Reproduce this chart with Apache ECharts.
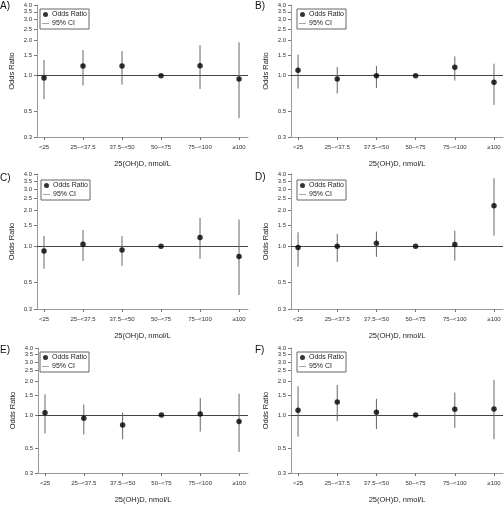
<!DOCTYPE html>
<html>
<head>
<meta charset="utf-8">
<script src="https://cdn.jsdelivr.net/npm/echarts@6/dist/echarts.min.js"></script>
<style>
html,body{margin:0;padding:0;background:#fff;}
#c{width:504px;height:505px;}
</style>
</head>
<body>
<div id="c"></div>
<script>
var categories = ['<25', '25\u2013<37.5', '37.5\u2013<50', '50\u2013<75', '75\u2013<100', '\u2265100'];
var yTicks = [0.3, 0.5, 1.0, 1.5, 2.0, 2.5, 3.0, 3.5, 4.0];
var panelLabels = ['A)', 'B)', 'C)', 'D)', 'E)', 'F)'];

var orA = [0.955, 1.21, 1.21, 1.0, 1.215, 0.937];
var loA = [0.63, 0.823, 0.839, null, 0.77, 0.435];
var hiA = [1.358, 1.65, 1.62, null, 1.82, 1.92];

var orB = [1.11, 0.937, 1.0, 1.0, 1.177, 0.878];
var loB = [0.776, 0.704, 0.786, null, 0.907, 0.564];
var hiB = [1.51, 1.184, 1.21, null, 1.459, 1.264];

var orC = [0.914, 1.039, 0.932, 1.0, 1.18, 0.82];
var loC = [0.65, 0.754, 0.685, null, 0.784, 0.392];
var hiC = [1.22, 1.37, 1.212, null, 1.725, 1.67];

var orD = [0.974, 1.0, 1.06, 1.0, 1.033, 2.18];
var loD = [0.675, 0.74, 0.816, null, 0.76, 1.225];
var hiD = [1.308, 1.266, 1.325, null, 1.35, 3.68];

var orE = [1.047, 0.931, 0.811, 1.0, 1.02, 0.872];
var loE = [0.68, 0.667, 0.604, null, 0.707, 0.465];
var hiE = [1.53, 1.24, 1.047, null, 1.42, 1.55];

var orF = [1.103, 1.307, 1.054, 1.0, 1.125, 1.132];
var loF = [0.637, 0.877, 0.745, null, 0.765, 0.604];
var hiF = [1.81, 1.86, 1.396, null, 1.59, 2.07];

var panels = [
  {or: orA, lo: loA, hi: hiA},
  {or: orB, lo: loB, hi: hiB},
  {or: orC, lo: loC, hi: hiC},
  {or: orD, lo: loD, hi: hiD},
  {or: orE, lo: loE, hi: hiE},
  {or: orF, lo: loF, hi: hiF}
];

// layout (pixels)
var grids = [
  {left: 37, top: 5, width: 211, height: 132},
  {left: 291, top: 5, width: 212, height: 132},
  {left: 37, top: 174, width: 211, height: 135},
  {left: 291, top: 174, width: 212, height: 135},
  {left: 38, top: 348, width: 210, height: 133},
  {left: 291, top: 348, width: 212, height: 133}
];
var legendPos = [
  {left: 40, top: 9}, {left: 297, top: 9},
  {left: 41, top: 180}, {left: 297, top: 180},
  {left: 40, top: 352}, {left: 297, top: 352}
];
var titlePos = [
  {left: 0, top: 1}, {left: 255, top: 1},
  {left: 0, top: 173}, {left: 255, top: 172},
  {left: 0, top: 345}, {left: 255, top: 345}
];

var FONT = 'Liberation Sans, Arial, sans-serif';
var xIdx = [0, 1, 2, 3, 4, 5];
var ciIcon = 'path://M0,0 L0,0 M12,6 L12,6 M0,2.5 L12,2.5 L12,3.5 L0,3.5 Z';

var option = {
  animation: false,
  backgroundColor: '#fff',
  title: [], grid: [], xAxis: [], yAxis: [], legend: [], series: []
};

panels.forEach(function (p, k) {
  var g = grids[k];
  option.grid.push({left: g.left, top: g.top, width: g.width, height: g.height, containLabel: false});
  option.title.push({
    text: panelLabels[k], left: titlePos[k].left, top: titlePos[k].top, padding: 0,
    textStyle: {fontFamily: FONT, fontSize: 10, fontWeight: 'normal', color: '#111'}
  });
  option.xAxis.push({
    type: 'value', gridIndex: k, min: -0.18, max: 5.23,
    name: '25(OH)D, nmol/L', nameLocation: 'middle', nameGap: 23,
    nameTextStyle: {fontFamily: FONT, fontSize: 7.5, color: '#222'},
    axisLine: {show: true, onZero: false, lineStyle: {color: '#999', width: 1}},
    axisTick: {show: true, length: 3, customValues: xIdx, lineStyle: {color: '#777'}},
    axisLabel: {
      customValues: xIdx, margin: 7, fontFamily: FONT, fontSize: 6, color: '#333',
      formatter: function (v) { return categories[Math.round(v)]; }
    },
    splitLine: {show: false}
  });
  option.yAxis.push({
    type: 'log', logBase: 10, gridIndex: k, min: 0.2999, max: 4.0005,
    name: 'Odds Ratio', nameLocation: 'middle', nameGap: 21,
    nameTextStyle: {fontFamily: FONT, fontSize: 7.5, color: '#222'},
    axisLine: {show: true, onZero: false, lineStyle: {color: '#999', width: 1}},
    axisTick: {show: true, length: 3, customValues: yTicks, lineStyle: {color: '#777'}},
    axisLabel: {
      customValues: yTicks, margin: 5, fontFamily: FONT, fontSize: 6, color: '#333',
      showMinLabel: true, showMaxLabel: true, hideOverlap: false,
      formatter: function (v) { return Number(v).toFixed(1); }
    },
    splitLine: {show: false}
  });
  option.legend.push({
    left: legendPos[k].left, top: legendPos[k].top, orient: 'vertical',
    borderColor: '#666', borderWidth: 1, padding: [2, 2, 2, 2], itemGap: 2,
    itemWidth: 7, itemHeight: 5, selectedMode: false,
    textStyle: {fontFamily: FONT, fontSize: 7, color: '#222', padding: [0, 0, 0, -2]},
    data: [{name: 'Odds Ratio', icon: 'circle'}, {name: '95% CI', icon: ciIcon}]
  });
  var ciData = [];
  var ptData = [];
  for (var i = 0; i < categories.length; i++) {
    ptData.push([i, p.or[i]]);
    if (p.lo[i] != null) ciData.push([i, p.lo[i], p.hi[i]]);
  }
  option.series.push({
    name: '95% CI', type: 'custom', xAxisIndex: k, yAxisIndex: k,
    itemStyle: {color: '#666'},
    encode: {x: 0, y: [1, 2]},
    data: ciData,
    renderItem: function (params, api) {
      var a = api.coord([api.value(0), api.value(1)]);
      var b = api.coord([api.value(0), api.value(2)]);
      return {type: 'line', shape: {x1: a[0], y1: a[1], x2: b[0], y2: b[1]},
        style: {stroke: '#666', lineWidth: 1}};
    },
    z: 3
  });
  option.series.push({
    name: 'Odds Ratio', type: 'scatter', xAxisIndex: k, yAxisIndex: k,
    symbol: 'circle', symbolSize: 5.5, itemStyle: {color: '#000'},
    data: ptData, z: 5,
    markLine: {
      silent: true, symbol: ['none', 'none'], label: {show: false},
      lineStyle: {color: '#444', width: 1, type: 'solid'},
      data: [{yAxis: 1}], z: 2
    }
  });
});

var chart = echarts.init(document.getElementById('c'), null, {renderer: 'canvas'});
chart.setOption(option);
</script>
</body>
</html>
